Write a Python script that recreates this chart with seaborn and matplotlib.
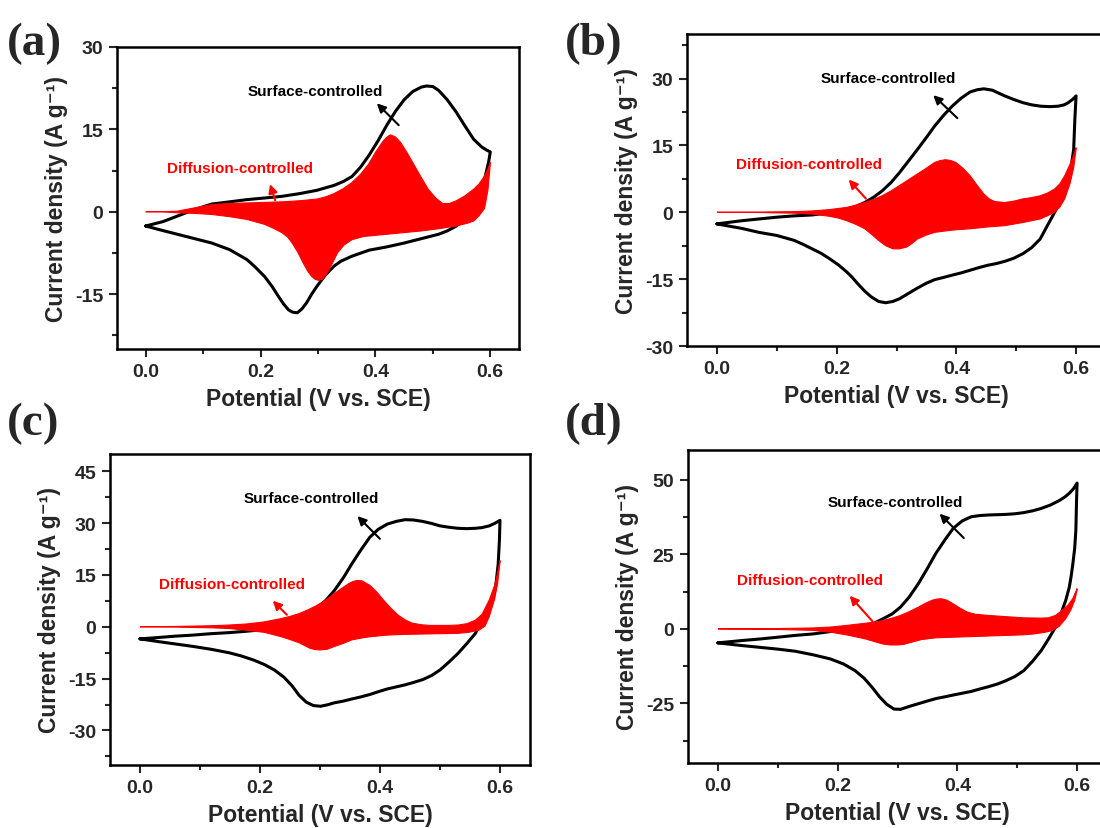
import matplotlib
matplotlib.use("Agg")
import matplotlib.pyplot as plt
import numpy as np
import pandas as pd
import seaborn as sns
from matplotlib.ticker import MultipleLocator

# ---------------- data ----------------
# Panel (a)
a_fwd_x = [0.0, 0.03, 0.055, 0.085, 0.115, 0.146, 0.176, 0.207, 0.237, 0.268, 0.298, 0.328, 0.344, 0.359, 0.374,
           0.389, 0.405, 0.42, 0.435, 0.45, 0.465, 0.48, 0.489, 0.50, 0.51, 0.525, 0.541, 0.556, 0.571, 0.585,
           0.594, 0.6]
a_fwd_y = [-2.6, -1.8, -0.8, 0.4, 1.4, 1.8, 2.2, 2.5, 2.8, 3.3, 3.9, 4.8, 5.5, 6.4, 8.1,
           10.3, 13.0, 15.8, 18.3, 20.4, 21.9, 22.7, 22.9, 22.8, 22.1, 20.4, 18.1, 15.6, 13.2, 11.8,
           11.2, 10.9]
a_rev_x = [0.6, 0.597, 0.59, 0.58, 0.571, 0.556, 0.541, 0.525, 0.51, 0.48, 0.45, 0.42, 0.389, 0.359, 0.34, 0.328,
           0.313, 0.298, 0.289, 0.28, 0.272, 0.264, 0.256, 0.249, 0.24, 0.231, 0.22, 0.207, 0.19, 0.176, 0.146,
           0.115, 0.085, 0.055, 0.025, 0.0]
a_rev_y = [10.9, 9.0, 5.9, 3.0, 1.0, -1.0, -2.6, -3.5, -4.1, -4.9, -5.7, -6.4, -7.0, -8.1, -9.0, -9.9,
           -11.5, -13.6, -15.0, -16.6, -17.7, -18.4, -18.3, -17.9, -16.8, -15.4, -13.6, -11.8, -10.0, -8.7, -6.9,
           -5.7, -4.9, -4.1, -3.3, -2.6]
a_red_up_x = [0.0, 0.03, 0.055, 0.085, 0.115, 0.146, 0.176, 0.207, 0.237, 0.268, 0.298, 0.313, 0.328, 0.344, 0.359,
              0.374, 0.389, 0.40, 0.413, 0.42, 0.426, 0.435, 0.444, 0.456, 0.468, 0.48, 0.492, 0.505, 0.517, 0.529,
              0.541, 0.556, 0.571, 0.58, 0.59, 0.596, 0.6]
a_red_up_y = [0.0, 0.0, 0.1, 0.7, 1.3, 1.5, 1.6, 1.7, 1.8, 2.0, 2.3, 2.7, 3.3, 4.2, 5.3,
              6.8, 8.8, 10.8, 12.8, 13.6, 14.0, 13.6, 12.6, 10.6, 8.4, 6.2, 4.1, 2.5, 1.5, 1.5,
              2.0, 2.9, 4.1, 5.0, 6.5, 7.8, 9.0]
a_red_lo_x = [0.0, 0.03, 0.055, 0.085, 0.115, 0.146, 0.176, 0.207, 0.222, 0.237, 0.247, 0.255, 0.265, 0.274, 0.282,
              0.289, 0.295, 0.301, 0.308, 0.316, 0.325, 0.334, 0.345, 0.359, 0.38, 0.42, 0.45, 0.48, 0.51, 0.541,
              0.56, 0.571, 0.58, 0.59, 0.596, 0.6]
a_red_lo_y = [0.0, 0.0, -0.2, -0.3, -0.5, -0.9, -1.4, -2.3, -3.0, -3.8, -4.6, -5.7, -7.4, -9.3, -10.8,
              -11.8, -12.3, -12.5, -12.3, -11.2, -9.4, -7.5, -6.1, -5.1, -4.5, -4.1, -3.8, -3.5, -3.1, -2.6,
              -2.1, -1.7, -0.8, 0.6, 4.0, 8.7]

# Panel (b)
b_fwd_x = [0.0, 0.041, 0.07, 0.1, 0.129, 0.159, 0.188, 0.217, 0.232, 0.247, 0.262, 0.276, 0.291, 0.305, 0.32, 0.335,
           0.35, 0.364, 0.379, 0.393, 0.408, 0.423, 0.435, 0.446, 0.46, 0.481, 0.496, 0.511, 0.526, 0.541, 0.556,
           0.57, 0.58, 0.587, 0.594, 0.6]
b_fwd_y = [-2.6, -1.9, -1.5, -1.1, -0.8, -0.6, -0.1, 0.7, 1.3, 2.2, 3.4, 4.8, 6.7, 8.9, 11.5, 14.1,
           16.8, 19.4, 21.8, 23.8, 25.6, 27.0, 27.5, 27.7, 27.4, 26.1, 25.3, 24.6, 24.1, 23.8, 23.7,
           23.8, 24.1, 24.6, 25.3, 26.1]
b_rev_x = [0.6, 0.598, 0.596, 0.592, 0.587, 0.58, 0.57, 0.561, 0.552, 0.54, 0.526, 0.511, 0.496, 0.481, 0.467,
           0.452, 0.438, 0.423, 0.408, 0.393, 0.379, 0.364, 0.35, 0.335, 0.32, 0.305, 0.294, 0.282, 0.27, 0.258,
           0.247, 0.235, 0.226, 0.217, 0.203, 0.188, 0.174, 0.159, 0.144, 0.129, 0.1, 0.07, 0.041, 0.02, 0.0]
b_rev_y = [26.1, 21.0, 14.1, 10.5, 7.4, 4.3, 1.5, -0.8, -3.0, -6.0, -7.9, -9.3, -10.3, -11.0, -11.5,
           -11.9, -12.4, -13.0, -13.6, -14.1, -14.6, -15.1, -15.9, -17.0, -18.2, -19.4, -20.0, -20.3, -20.0, -19.0,
           -17.7, -16.0, -14.6, -13.4, -11.8, -10.4, -9.2, -8.2, -7.2, -6.3, -5.2, -4.5, -3.6, -3.1, -2.6]
b_red_up_x = [0.0, 0.07, 0.129, 0.159, 0.188, 0.217, 0.232, 0.247, 0.262, 0.276, 0.291, 0.305, 0.32, 0.335, 0.35,
              0.364, 0.373, 0.382, 0.391, 0.399, 0.411, 0.423, 0.435, 0.446, 0.455, 0.464, 0.481, 0.496, 0.511,
              0.526, 0.54, 0.552, 0.564, 0.573, 0.581, 0.59, 0.596, 0.6]
b_red_up_y = [0.0, 0.05, 0.15, 0.3, 0.6, 1.1, 1.6, 2.2, 2.9, 3.7, 4.8, 6.0, 7.3, 8.6, 9.9,
              11.2, 11.6, 11.8, 11.6, 11.2, 9.9, 8.2, 6.0, 4.1, 3.0, 2.4, 2.2, 2.5, 3.0,
              3.3, 3.7, 4.3, 5.2, 6.4, 8.2, 10.8, 12.8, 14.5]
b_red_lo_x = [0.0, 0.07, 0.129, 0.159, 0.188, 0.203, 0.217, 0.232, 0.247, 0.258, 0.27, 0.282, 0.294, 0.305, 0.317,
              0.326, 0.335, 0.35, 0.364, 0.393, 0.423, 0.452, 0.481, 0.511, 0.54, 0.552, 0.564, 0.573, 0.581,
              0.59, 0.596, 0.6]
b_red_lo_y = [0.0, -0.05, -0.2, -0.4, -0.9, -1.3, -1.9, -2.7, -3.7, -4.9, -6.3, -7.5, -8.2, -8.2, -7.8,
              -7.0, -6.0, -5.1, -4.5, -4.0, -3.7, -3.3, -3.0, -2.3, -1.5, -0.8, 0.0, 1.2, 3.0,
              6.5, 10.0, 14.1]

# Panel (c)
c_fwd_x = [0.0, 0.031, 0.06, 0.089, 0.118, 0.148, 0.177, 0.207, 0.236, 0.25, 0.265, 0.28, 0.295, 0.31, 0.324, 0.339,
           0.353, 0.368, 0.383, 0.397, 0.412, 0.427, 0.442, 0.456, 0.471, 0.486, 0.5, 0.515, 0.53, 0.545, 0.559,
           0.57, 0.582, 0.591, 0.6]
c_fwd_y = [-3.5, -3.1, -2.7, -2.4, -2.0, -1.7, -1.3, -0.8, 0.2, 1.0, 1.9, 3.4, 5.3, 7.7, 10.5, 14.2,
           18.2, 22.2, 25.9, 28.2, 29.7, 30.5, 31.0, 30.9, 30.5, 29.9, 29.2, 28.8, 28.5, 28.4, 28.5,
           28.7, 29.2, 29.9, 30.8]
c_rev_x = [0.6, 0.599, 0.597, 0.593, 0.588, 0.582, 0.577, 0.568, 0.559, 0.545, 0.53, 0.515, 0.5, 0.486, 0.471,
           0.456, 0.442, 0.427, 0.412, 0.397, 0.383, 0.368, 0.353, 0.339, 0.324, 0.312, 0.301, 0.289, 0.277, 0.265,
           0.254, 0.24, 0.224, 0.207, 0.189, 0.168, 0.148, 0.118, 0.089, 0.06, 0.031, 0.0]
c_rev_y = [30.8, 25.0, 18.2, 12.0, 7.7, 5.5, 3.8, 1.0, -1.9, -4.8, -7.7, -10.2, -12.5, -14.1, -15.3,
           -16.1, -16.8, -17.4, -18.0, -18.8, -19.6, -20.3, -20.9, -21.5, -22.0, -22.6, -23.0, -22.8, -21.8, -19.8,
           -17.2, -14.6, -12.5, -10.9, -9.6, -8.4, -7.5, -6.5, -5.7, -5.0, -4.3, -3.5]
c_red_up_x = [0.0, 0.06, 0.119, 0.148, 0.177, 0.207, 0.236, 0.25, 0.265, 0.28, 0.295, 0.31, 0.324, 0.336, 0.348,
              0.355, 0.362, 0.37, 0.383, 0.395, 0.406, 0.418, 0.43, 0.442, 0.453, 0.468, 0.483, 0.5, 0.515, 0.53,
              0.545, 0.559, 0.57, 0.582, 0.591, 0.596, 0.6]
c_red_up_y = [0.0, 0.1, 0.3, 0.5, 0.8, 1.4, 2.4, 3.0, 3.8, 4.9, 6.2, 7.8, 9.6, 11.1, 12.5,
              13.1, 13.4, 13.3, 12.0, 10.0, 7.7, 5.4, 3.4, 2.0, 1.1, 0.6, 0.4, 0.4, 0.4, 0.5,
              0.9, 1.9, 3.6, 7.7, 12.0, 15.5, 19.2]
c_red_lo_x = [0.0, 0.06, 0.119, 0.148, 0.177, 0.207, 0.236, 0.25, 0.265, 0.274, 0.283, 0.292, 0.301, 0.312, 0.324,
              0.339, 0.353, 0.368, 0.383, 0.412, 0.442, 0.471, 0.5, 0.53, 0.548, 0.565, 0.575, 0.582, 0.591,
              0.596, 0.6]
c_red_lo_y = [0.0, -0.1, -0.3, -0.5, -1.0, -1.6, -2.9, -3.7, -4.6, -5.4, -6.2, -6.6, -6.7, -6.5, -5.7,
              -4.8, -3.8, -3.3, -2.9, -2.4, -2.2, -2.1, -2.0, -1.9, -1.6, -1.0, 0.2, 2.9, 8.0,
              12.5, 18.7]

# Panel (d)
d_fwd_x = [0.0, 0.041, 0.07, 0.1, 0.129, 0.159, 0.188, 0.217, 0.247, 0.262, 0.276, 0.291, 0.305, 0.32, 0.335, 0.35,
           0.364, 0.379, 0.393, 0.408, 0.423, 0.437, 0.452, 0.467, 0.481, 0.496, 0.511, 0.526, 0.54, 0.555, 0.57,
           0.58, 0.587, 0.594, 0.6]
d_fwd_y = [-4.7, -3.9, -3.4, -2.8, -2.2, -1.7, -0.9, 0.0, 1.1, 2.0, 3.4, 5.0, 7.3, 10.8, 15.2, 20.3,
           25.3, 29.8, 33.7, 36.2, 37.6, 38.0, 38.2, 38.3, 38.4, 38.6, 39.0, 39.6, 40.4, 41.5, 43.0,
           44.3, 45.5, 47.0, 48.9]
d_rev_x = [0.6, 0.599, 0.598, 0.596, 0.593, 0.59, 0.587, 0.581, 0.575, 0.57, 0.564, 0.552, 0.54, 0.526, 0.511,
           0.496, 0.481, 0.467, 0.452, 0.437, 0.423, 0.408, 0.393, 0.379, 0.364, 0.35, 0.335, 0.32, 0.305, 0.294,
           0.282, 0.27, 0.258, 0.244, 0.229, 0.21, 0.188, 0.159, 0.129, 0.1, 0.07, 0.035, 0.0]
d_rev_y = [48.9, 42.0, 33.1, 27.0, 21.9, 17.5, 14.0, 9.5, 6.2, 3.4, 0.6, -3.5, -7.3, -10.8, -14.0,
           -16.0, -17.4, -18.5, -19.4, -20.2, -21.0, -21.6, -22.2, -22.8, -23.4, -24.2, -25.1, -26.0, -27.0, -26.9,
           -25.3, -22.8, -19.7, -16.5, -14.0, -11.8, -10.1, -8.7, -7.5, -6.8, -6.2, -5.5, -4.7]
d_red_up_x = [0.0, 0.1, 0.159, 0.188, 0.217, 0.247, 0.262, 0.276, 0.291, 0.305, 0.32, 0.335, 0.347, 0.358, 0.366,
              0.373, 0.383, 0.393, 0.405, 0.417, 0.43, 0.452, 0.481, 0.511, 0.54, 0.552, 0.564, 0.575, 0.585,
              0.593, 0.6]
d_red_up_y = [0.0, 0.1, 0.3, 0.6, 1.2, 1.9, 2.3, 2.8, 3.6, 4.5, 5.8, 7.3, 8.6, 9.6, 10.0,
              10.1, 9.6, 8.4, 6.9, 5.6, 4.9, 4.5, 4.1, 3.7, 3.6, 3.7, 4.5, 6.2, 8.0,
              10.2, 13.5]
d_red_lo_x = [0.0, 0.1, 0.159, 0.188, 0.217, 0.247, 0.262, 0.276, 0.288, 0.299, 0.311, 0.323, 0.34, 0.364, 0.393,
              0.423, 0.452, 0.481, 0.511, 0.528, 0.545, 0.558, 0.57, 0.581, 0.59, 0.596, 0.6]
d_red_lo_y = [0.0, -0.2, -0.5, -1.1, -2.1, -3.4, -4.3, -5.1, -5.4, -5.4, -5.2, -4.5, -3.6, -3.0, -2.8,
              -2.6, -2.4, -2.2, -2.0, -1.7, -1.2, -0.6, 0.8, 3.4, 6.5, 9.5, 12.9]

panel_letters = ["(a)", "(b)", "(c)", "(d)"]
x_ticks = [0.0, 0.2, 0.4, 0.6]
a_yticks = [-15, 0, 15, 30]
b_yticks = [-30, -15, 0, 15, 30]
c_yticks = [-30, -15, 0, 15, 30, 45]
d_yticks = [-25, 0, 25, 50]
surface_label = "Surface-controlled"
diffusion_label = "Diffusion-controlled"
x_label = "Potential (V vs. SCE)"
y_label = "Current density (A g\u207b\u00b9)"

# ---------------- style ----------------
sns.set_style("ticks")
plt.rcParams["font.family"] = ["Liberation Sans", "DejaVu Sans"]
plt.rcParams["font.weight"] = "bold"
plt.rcParams["axes.labelweight"] = "bold"

W, H = 1100, 829
fig = plt.figure(figsize=(W / 100, H / 100), dpi=100)


def rect(x0, x1, y0, y1):
    return [x0 / W, 1 - y1 / H, (x1 - x0) / W, (y1 - y0) / H]


panels = [
    dict(rect=rect(117, 519, 48, 350), ylim=(-25, 30), yticks=a_yticks,
         fwd=(a_fwd_x, a_fwd_y), rev=(a_rev_x, a_rev_y),
         up=(a_red_up_x, a_red_up_y), lo=(a_red_lo_x, a_red_lo_y),
         s_txt=(0.296, 22.0), s_tail=(0.444, 15.4), s_head=(0.399, 20.1),
         d_txt=(0.165, 7.9), d_tail=(0.227, 1.6), d_head=(0.215, 5.5),
         letter_xy=(7, 44)),
    dict(rect=rect(687, 1106, 35, 347), ylim=(-30, 40), yticks=b_yticks,
         fwd=(b_fwd_x, b_fwd_y), rev=(b_rev_x, b_rev_y),
         up=(b_red_up_x, b_red_up_y), lo=(b_red_lo_x, b_red_lo_y),
         s_txt=(0.287, 30.2), s_tail=(0.405, 20.7), s_head=(0.358, 26.7),
         d_txt=(0.154, 10.8), d_tail=(0.252, 2.6), d_head=(0.217, 7.8),
         letter_xy=(565, 44)),
    dict(rect=rect(110, 530, 455, 766), ylim=(-40, 50), yticks=c_yticks,
         fwd=(c_fwd_x, c_fwd_y), rev=(c_rev_x, c_rev_y),
         up=(c_red_up_x, c_red_up_y), lo=(c_red_lo_x, c_red_lo_y),
         s_txt=(0.286, 37.2), s_tail=(0.403, 24.9), s_head=(0.359, 32.6),
         d_txt=(0.154, 12.3), d_tail=(0.248, 2.9), d_head=(0.218, 8.1),
         letter_xy=(7, 424)),
    dict(rect=rect(688, 1107, 451, 764), ylim=(-45, 60), yticks=d_yticks,
         fwd=(d_fwd_x, d_fwd_y), rev=(d_rev_x, d_rev_y),
         up=(d_red_up_x, d_red_up_y), lo=(d_red_lo_x, d_red_lo_y),
         s_txt=(0.297, 42.7), s_tail=(0.414, 29.8), s_head=(0.367, 39.3),
         d_txt=(0.154, 16.3), d_tail=(0.261, 1.9), d_head=(0.217, 11.8),
         letter_xy=(565, 424)),
]

for letter, p in zip(panel_letters, panels):
    ax = fig.add_axes(p["rect"])
    # black total CV loop
    fx, fy = p["fwd"]
    rx, ry = p["rev"]
    df = pd.DataFrame({"E": list(fx) + list(rx), "I": list(fy) + list(ry)})
    sns.lineplot(data=df, x="E", y="I", sort=False, estimator=None, color="black",
                 lw=2.2, ax=ax, legend=False, zorder=3)
    # red diffusion-controlled region (drawn over the loop)
    ux, uy = p["up"]
    lx, ly = p["lo"]
    poly_x = list(ux) + list(lx)[::-1]
    poly_y = list(uy) + list(ly)[::-1]
    ax.fill(poly_x, poly_y, color="#ff0000", lw=0.8, ec="#ff0000", zorder=4)

    ax.set_xlim(-0.05, 0.65)
    ax.set_ylim(*p["ylim"])
    ax.set_xticks(x_ticks)
    ax.set_xticklabels([f"{t:.1f}" for t in x_ticks])
    ax.set_yticks(p["yticks"])
    ax.set_yticklabels([str(t) for t in p["yticks"]])
    ax.xaxis.set_minor_locator(MultipleLocator(0.1))
    ax.yaxis.set_minor_locator(MultipleLocator((p["yticks"][1] - p["yticks"][0]) / 2))
    ax.tick_params(which="major", direction="out", length=6, width=1.5, labelsize=14, pad=4,
                   top=False, right=False)
    ax.tick_params(which="minor", direction="out", length=3.5, width=1.5, top=False, right=False)
    for lab in ax.get_xticklabels() + ax.get_yticklabels():
        lab.set_fontweight("bold")
    for s in ax.spines.values():
        s.set_linewidth(1.8)
        s.set_color("black")
        s.set_zorder(6)
    ax.set_xlabel(x_label, fontsize=16.5, fontweight="bold", labelpad=5)
    ax.set_ylabel(y_label, fontsize=16.5, fontweight="bold", labelpad=5)

    ax.annotate("", xy=p["s_head"], xytext=p["s_tail"],
                arrowprops=dict(arrowstyle="-|>", color="black", lw=1.5, mutation_scale=13), zorder=5)
    ax.text(*p["s_txt"], surface_label, ha="center", va="center", fontsize=11,
            fontweight="bold", color="black", zorder=5)
    ax.annotate("", xy=p["d_head"], xytext=p["d_tail"],
                arrowprops=dict(arrowstyle="-|>", color="#ff0000", lw=1.5, mutation_scale=13), zorder=5)
    ax.text(*p["d_txt"], diffusion_label, ha="center", va="center", fontsize=11,
            fontweight="bold", color="#ff0000", zorder=5)

    lx0, ly0 = p["letter_xy"]
    fig.text(lx0 / W, 1 - ly0 / H, letter, ha="left", va="center", fontsize=34,
             fontweight="bold", family=["Liberation Serif", "DejaVu Serif"])

fig.savefig("out.png", dpi=100, facecolor="white")
